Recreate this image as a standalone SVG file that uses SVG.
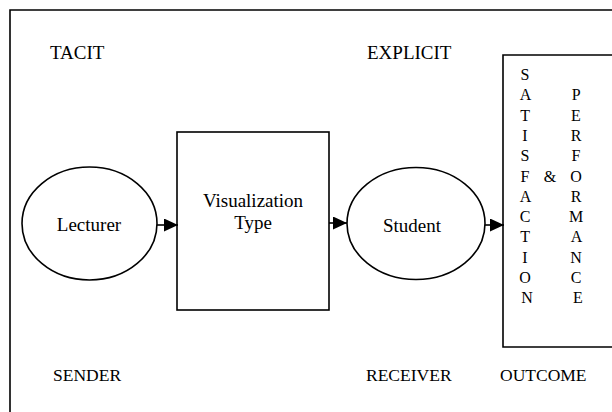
<svg xmlns="http://www.w3.org/2000/svg" width="612" height="412" viewBox="0 0 612 412">
<style>
.shape{fill:none;stroke:#000;stroke-width:1.6}
.lbl{font-family:"Liberation Serif","Times New Roman",serif;font-size:19px;fill:#000}
.bot{font-family:"Liberation Serif","Times New Roman",serif;font-size:17.5px;fill:#000}
.vt{font-family:"Liberation Serif","Times New Roman",serif;font-size:16px;fill:#000}
.conn{stroke:#000;stroke-width:1.6;fill:none}
</style>
<defs>
<marker id="ah" viewBox="0 0 14 13" refX="14" refY="6.5" markerWidth="14" markerHeight="13" markerUnits="userSpaceOnUse" orient="auto">
<path d="M0,0 L14,6.5 L0,13 Z" fill="#000"/>
</marker>
</defs>
<rect width="612" height="412" fill="#fff"/>
<g id="frame"><path class="shape" d="M10,420 L10,10 L620,10" stroke-width="1.8"/></g>
<g id="labels">
<text class="lbl" x="50" y="59">TACIT</text>
<text class="lbl" x="367" y="59">EXPLICIT</text>
<text class="bot" x="53" y="381">SENDER</text>
<text class="bot" x="366" y="381">RECEIVER</text>
<text class="bot" x="500" y="381">OUTCOME</text>
</g>
<g id="lecturer">
<ellipse class="shape" cx="89.5" cy="223.5" rx="67.5" ry="56.5"/>
<text class="lbl" x="89" y="231" text-anchor="middle">Lecturer</text>
</g>
<g id="visualization">
<rect class="shape" x="177" y="132" width="152" height="178"/>
<text class="lbl" x="253" y="207" text-anchor="middle">Visualization</text>
<text class="lbl" x="253" y="229" text-anchor="middle">Type</text>
</g>
<g id="student">
<ellipse class="shape" cx="416" cy="223.5" rx="69" ry="56"/>
<text class="lbl" x="412" y="232" text-anchor="middle">Student</text>
</g>
<g id="outcome">
<path class="shape" d="M620,55 L503,55 L503,347 L620,347"/>
<text class="vt" text-anchor="middle">
<tspan x="527" y="80">S</tspan>
<tspan x="527" y="100.3">A</tspan>
<tspan x="527" y="120.6">T</tspan>
<tspan x="527" y="140.9">I</tspan>
<tspan x="527" y="161.2">S</tspan>
<tspan x="527" y="181.5">F</tspan>
<tspan x="527" y="201.8">A</tspan>
<tspan x="527" y="222.1">C</tspan>
<tspan x="527" y="242.4">T</tspan>
<tspan x="527" y="262.7">I</tspan>
<tspan x="527" y="283">O</tspan>
<tspan x="527" y="303.3">N</tspan>
</text>
<text class="vt" x="550" y="181.5" text-anchor="middle">&amp;</text>
<text class="vt" text-anchor="middle">
<tspan x="578" y="100.3">P</tspan>
<tspan x="578" y="120.6">E</tspan>
<tspan x="578" y="140.9">R</tspan>
<tspan x="578" y="161.2">F</tspan>
<tspan x="578" y="181.5">O</tspan>
<tspan x="578" y="201.8">R</tspan>
<tspan x="578" y="222.1">M</tspan>
<tspan x="578" y="242.4">A</tspan>
<tspan x="578" y="262.7">N</tspan>
<tspan x="578" y="283">C</tspan>
<tspan x="578" y="303.3">E</tspan>
</text>
</g>
<g id="connectors">
<line class="conn" x1="157" y1="225" x2="178" y2="225" marker-end="url(#ah)"/>
<line class="conn" x1="329" y1="223" x2="347" y2="223" marker-end="url(#ah)"/>
<line class="conn" x1="485" y1="225" x2="504" y2="225" marker-end="url(#ah)"/>
</g>
</svg>
